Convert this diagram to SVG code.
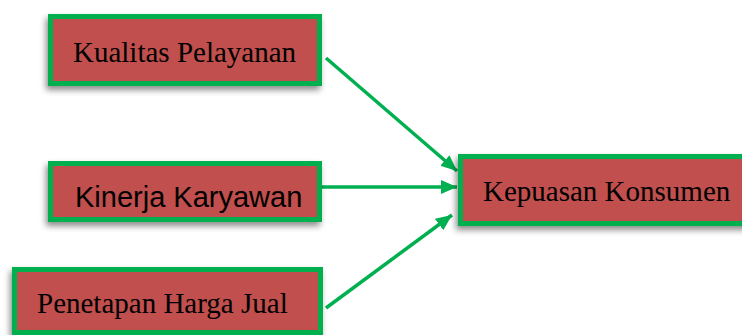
<svg xmlns="http://www.w3.org/2000/svg" width="742" height="335" viewBox="0 0 742 335">
<defs>
<style>
.box{fill:#C0504D;stroke:#00B050;stroke-width:5;filter:url(#sh)}
.serif{font-family:"Liberation Serif","Times New Roman",serif;font-size:29px;fill:#000}
.sans{font-family:"Liberation Sans",Arial,sans-serif;font-size:29px;fill:#000}
.conn{stroke:#00B050;stroke-width:3.5;fill:none;marker-end:url(#ah)}
</style>
<filter id="sh" x="-10%" y="-20%" width="120%" height="150%">
<feDropShadow dx="-2" dy="4" stdDeviation="3" flood-color="#000" flood-opacity="0.45"/>
</filter>
<marker id="ah" markerUnits="userSpaceOnUse" markerWidth="18" markerHeight="16" refX="16" refY="7" orient="auto">
<path d="M0,0 L16,7 L0,14 Z" fill="#00B050"/>
</marker>
</defs>
<g id="connectors">
<line class="conn" x1="326" y1="58" x2="457" y2="171"/>
<line class="conn" x1="322" y1="187" x2="457" y2="187"/>
<line class="conn" x1="326" y1="308" x2="452" y2="215"/>
</g>
<g id="kualitas">
<rect class="box" x="50.5" y="16.5" width="269" height="67"/>
<text class="serif" x="73" y="62">Kualitas Pelayanan</text>
</g>
<g id="kinerja">
<rect class="box" x="50.5" y="163.5" width="269" height="56"/>
<text class="sans" x="75" y="207">Kinerja Karyawan</text>
</g>
<g id="penetapan">
<rect class="box" x="14.5" y="269.5" width="306" height="63"/>
<text class="serif" x="37" y="313">Penetapan Harga Jual</text>
</g>
<g id="kepuasan">
<rect class="box" x="460.5" y="156.5" width="300" height="67"/>
<text class="serif" x="483" y="201">Kepuasan Konsumen</text>
</g>
</svg>
